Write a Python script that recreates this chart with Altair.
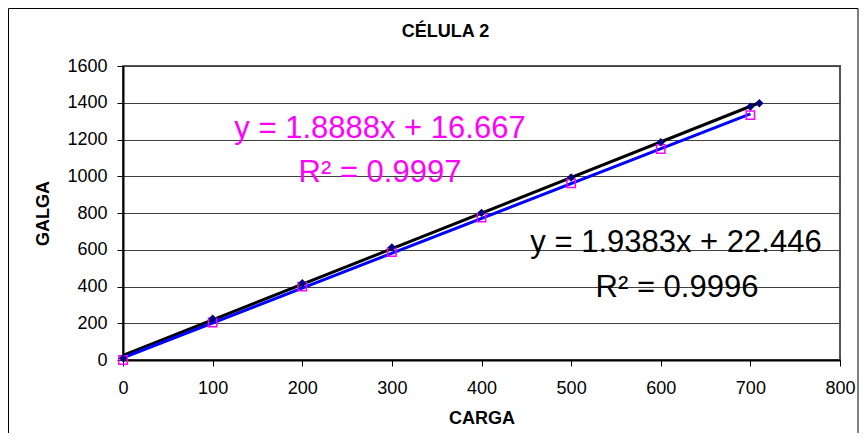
import altair as alt
import pandas as pd

# Series A (black diamonds, black trendline)
carga_a = [0, 100, 200, 300, 400, 500, 600, 700, 710]
galga_a = [10, 225, 418, 613, 801, 993, 1185, 1379, 1397]
# Series B (magenta squares, blue trendline)
carga_b = [0, 100, 200, 300, 400, 500, 600, 700]
galga_b = [0, 204, 399, 587, 775, 961, 1148, 1333]

x_ticks = [0, 100, 200, 300, 400, 500, 600, 700, 800]
y_ticks = [0, 200, 400, 600, 800, 1000, 1200, 1400, 1600]

title_text = "CÉLULA 2"
eq_b = ["y = 1.8888x + 16.667", "R² = 0.9997"]
eq_a = ["y = 1.9383x + 22.446", "R² = 0.9996"]

df_a = pd.DataFrame({"carga": carga_a, "galga": galga_a})
df_b = pd.DataFrame({"carga": carga_b, "galga": galga_b})

FONT = "Liberation Sans"

xs = alt.X("carga:Q", scale=alt.Scale(domain=[0, 800], nice=False),
           axis=alt.Axis(values=x_ticks, format="d", title="CARGA", grid=False, tickSize=6,
                         labelPadding=13, titlePadding=12, labelFlush=False))
ys = alt.Y("galga:Q", scale=alt.Scale(domain=[0, 1600], nice=False),
           axis=alt.Axis(values=y_ticks, format="d", title="GALGA", grid=True, tickSize=6,
                         labelPadding=10, titlePadding=14, labelFlush=False))

line_a = alt.Chart(df_a).transform_regression("carga", "galga").mark_line(
    color="black", strokeWidth=3).encode(x=xs, y=ys)
line_b = alt.Chart(df_b).transform_regression("carga", "galga").mark_line(
    color="#0000FF", strokeWidth=3).encode(x=xs, y=ys)

pts_b = alt.Chart(df_b).mark_point(shape="square", filled=False, color="#FF00FF",
                                    size=70, strokeWidth=1.5, opacity=1).encode(x=xs, y=ys)
pts_a = alt.Chart(df_a).mark_point(shape="diamond", filled=True, color="#000080",
                                    size=70, opacity=1).encode(x=xs, y=ys)


def label(text, color, x, y, size=31, weight="normal"):
    return alt.Chart(pd.DataFrame({"t": [text]})).mark_text(
        font=FONT, fontSize=size, fontWeight=weight, color=color,
        align="center", baseline="alphabetic", clip=False
    ).encode(text="t:N", x=alt.value(x), y=alt.value(y))


txt_title = label(title_text, "black", 322.5, -29.5, size=18, weight="bold")
txt_b1 = label(eq_b[0], "#FF00FF", 257, 72)
txt_b2 = label(eq_b[1], "#FF00FF", 257, 116)
txt_a1 = label(eq_a[0], "black", 553, 186)
txt_a2 = label(eq_a[1], "black", 554, 231)

frame = alt.Chart(pd.DataFrame({"a": [0]})).mark_rect(
    fill=None, stroke="black", strokeWidth=1, clip=False
).encode(x=alt.value(-114.5), x2=alt.value(735), y=alt.value(-57.5), y2=alt.value(380))

chart = alt.layer(frame, line_a, line_b, pts_b, pts_a, txt_title,
                  txt_b1, txt_b2, txt_a1, txt_a2).properties(
    width=717, height=294,
    background="white",
    autosize=alt.AutoSizeParams(type="none"),
    padding={"left": 115, "top": 58, "right": 20, "bottom": 73},
).configure_view(
    stroke="#555555", strokeWidth=2
).configure_axis(
    labelFont=FONT, labelFontSize=18, labelColor="black",
    titleFont=FONT, titleFontSize=18, titleFontWeight="bold", titleColor="black",
    domainColor="black", domainWidth=2, tickColor="black", tickWidth=1,
    gridColor="#404040", gridWidth=1,
)

chart.save("out.html", embed_options={"renderer": "svg", "actions": False})
